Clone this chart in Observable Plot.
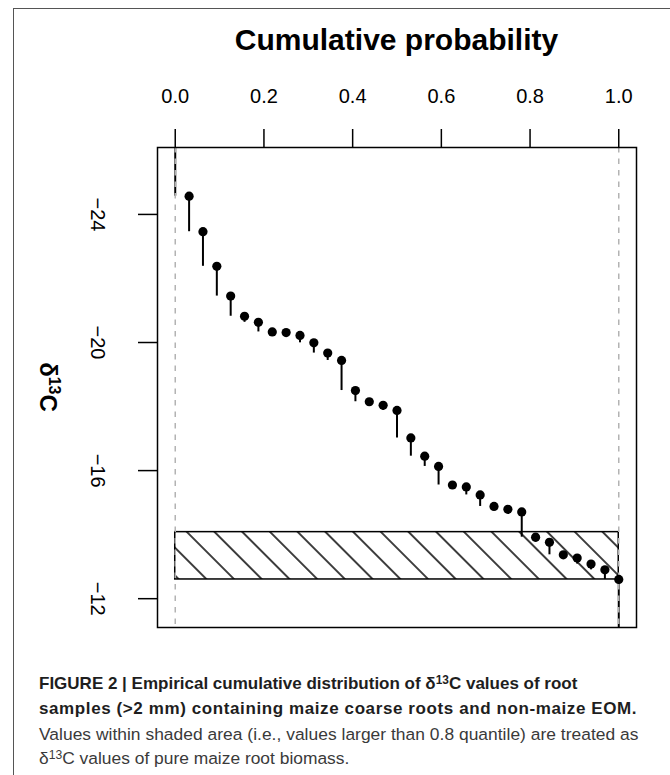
<!DOCTYPE html>
<html>
<head>
<meta charset="utf-8">
<script src="https://cdn.jsdelivr.net/npm/d3@7"></script>
<script src="https://cdn.jsdelivr.net/npm/@observablehq/plot@0.6"></script>
<style>
html, body { margin: 0; padding: 0; background: #fff; }
#wrap { position: relative; width: 670px; height: 775px; overflow: hidden; font-family: "Liberation Sans", Arial, sans-serif; }
#border { position: absolute; left: 13px; top: 8px; width: 680px; height: 800px; border-top: 1.5px solid #555; border-left: 1.5px solid #555; }
#title { position: absolute; left: 157px; width: 479px; top: 23px; text-align: center; font-weight: bold; font-size: 30px; line-height: 34px; color: #000; white-space: nowrap; }
#chart { position: absolute; left: 0; top: 60px; }
#caption { position: absolute; left: 39px; top: 671px; font-size: 17.4px; line-height: 24.3px; white-space: nowrap; color: #3a3a3a; }
#caption b { color: #1e1e1e; font-size: 17px; }
#caption .l2 { letter-spacing: 0.6px; }
#caption .l3 { letter-spacing: 0.03px; }
sup { font-size: 0.7em; line-height: 0; vertical-align: 0.45em; }
</style>
</head>
<body>
<div id="wrap">
  <div id="border"></div>
  <div id="title">Cumulative probability</div>
  <div id="chart"></div>
  <div id="caption"><b>FIGURE 2 | Empirical cumulative distribution of δ<sup>13</sup>C values of root</b><br><b class="l2">samples (&gt;2 mm) containing maize coarse roots and non-maize EOM.</b><br><span class="l3">Values within shaded area (i.e., values larger than 0.8 quantile) are treated as</span><br>δ<sup>13</sup>C values of pure maize root biomass.</div>
</div>
<script>
// sorted δ13C values of root samples
const delta13C = [-24.57, -23.46, -22.38, -21.45, -20.82, -20.63, -20.33, -20.31, -20.22, -19.99,
                  -19.67, -19.44, -18.50, -18.15, -18.04, -17.88, -17.02, -16.45, -16.13, -15.55,
                  -15.49, -15.24, -14.88, -14.79, -14.71, -13.92, -13.76, -13.37, -13.27, -13.08,
                  -12.90, -12.60];
const xTicks = [0, 0.2, 0.4, 0.6, 0.8, 1.0];
const yTicks = [-24, -20, -16, -12];
const xDomain = [-0.04, 1.04];
const yDomain = [-11.10, -26.09];

const n = delta13C.length;
// empirical cumulative probability of each sorted value
const prob = delta13C.map((_, i) => (i + 1) / n);
const points = delta13C.map((v, i) => ({p: prob[i], v}));
const steps = [{p: 0, y1: yDomain[1], y2: delta13C[0]}]
  .concat(delta13C.slice(0, -1).map((v, i) => ({p: prob[i], y1: v, y2: delta13C[i + 1]})))
  .concat([{p: 1, y1: delta13C[n - 1], y2: yDomain[0]}]);
const q80 = d3.quantile(delta13C, 0.8);
const band = [{x1: 0, x2: 1, y1: q80, y2: d3.max(delta13C)}];

function hatchDefs() {
  const defs = d3.create("svg:defs");
  const pat = defs.append("pattern")
    .attr("id", "hatch")
    .attr("patternUnits", "userSpaceOnUse")
    .attr("width", 19.6).attr("height", 19.6)
    .attr("patternTransform", "translate(6,0) rotate(-45)");
  pat.append("line")
    .attr("x1", 9.8).attr("x2", 9.8).attr("y1", -2).attr("y2", 21.6)
    .attr("stroke", "black").attr("stroke-width", 1.5);
  return defs.node();
}

const chart = Plot.plot({
  width: 670,
  height: 580,
  marginLeft: 157,
  marginRight: 34,
  marginTop: 87,
  marginBottom: 13,
  x: {domain: xDomain},
  y: {domain: yDomain},
  style: {fontFamily: "'Liberation Sans', Arial, sans-serif", fontSize: "20px", color: "black", background: "transparent", overflow: "visible"},
  marks: [
    hatchDefs,
    Plot.rect(band, {x1: "x1", x2: "x2", y1: "y1", y2: "y2", fill: "url(#hatch)", stroke: "black", strokeWidth: 1.5}),
    Plot.ruleX(steps, {x: "p", y1: "y1", y2: "y2", stroke: "black", strokeWidth: 2}),
    Plot.ruleX([0, 1], {stroke: "#b3b3b3", strokeWidth: 1.5, strokeDasharray: "5.5,6"}),
    Plot.dot(points, {x: "p", y: "v", r: 4.6, fill: "black", stroke: "none"}),
    Plot.frame({stroke: "black", strokeWidth: 1.5}),
    Plot.axisX({anchor: "top", ticks: xTicks, tickFormat: d3.format(".1f"), tickSize: 19, tickPadding: 26, fontSize: 20, strokeWidth: 1.5, label: null}),
    Plot.axisY({anchor: "left", ticks: yTicks, tickSize: 19, tickPadding: 33, tickRotate: 90, fontSize: 20, strokeWidth: 1.5, label: null})
  ]
});

const svg = d3.select(chart);
const lab = svg.append("text")
  .attr("transform", "translate(40,327) rotate(90)")
  .attr("text-anchor", "middle")
  .attr("font-weight", "bold")
  .attr("font-size", 24)
  .attr("fill", "black");
lab.append("tspan").text("δ");
lab.append("tspan").attr("font-size", 16).attr("dy", -9).text("13");
lab.append("tspan").attr("dy", 9).text("C");

document.getElementById("chart").appendChild(chart);
</script>
</body>
</html>
